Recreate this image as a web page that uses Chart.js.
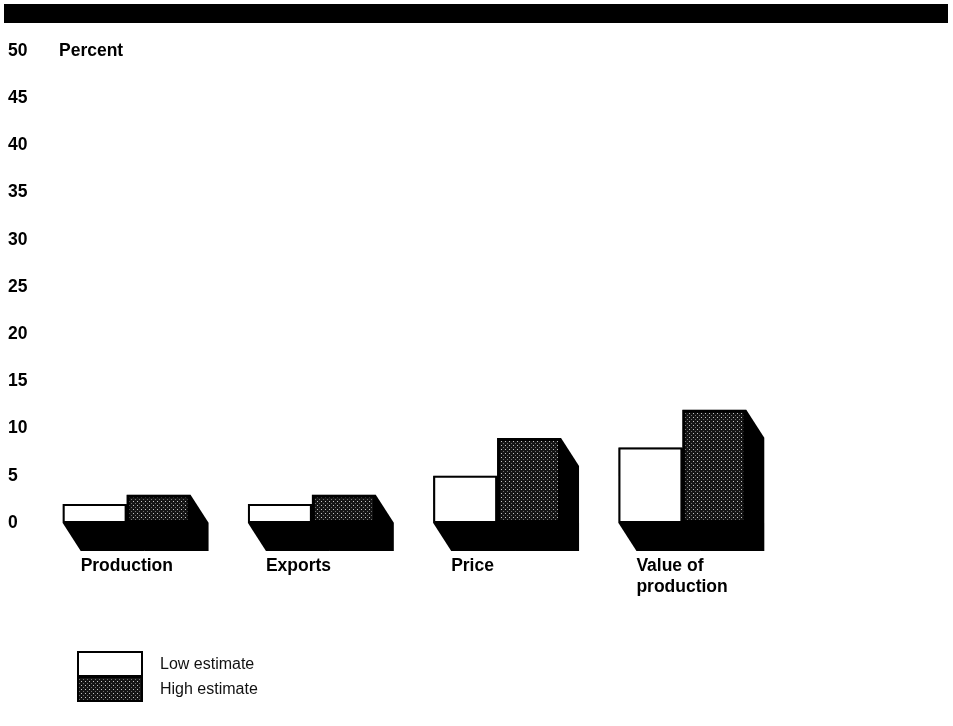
<!DOCTYPE html>
<html lang="en">
<head>
  <meta charset="UTF-8" />
  <title>Percent change: low and high estimates</title>
  <style>
    body {
      margin: 0;
      background-color: #ffffff;
    }
    .wrap {
      position: relative;
      width: 953px;
      height: 726px;
    }
  </style>
</head>
<body>
  <div class="wrap">
    <canvas id="barCanvas"></canvas>
  </div>

  <script src="https://cdn.jsdelivr.net/npm/chart.js"></script>
  <script>
    const categories = ['Production', 'Exports', 'Price', ['Value of', 'production']];
    const lowEstimate = [2, 2, 5, 8];
    const highEstimate = [3, 3, 9, 12];
    const seriesNames = ['Low estimate', 'High estimate'];
    const yMin = 0, yMax = 50, yStep = 5;
    const yUnit = 'Percent';

    const boldFont = { family: '"Liberation Sans", Arial, sans-serif', size: 17.5, weight: 'bold' };

    // fine dark stipple used for the high estimate bars
    function stipple() {
      const c = document.createElement('canvas');
      c.width = 4;
      c.height = 4;
      const g = c.getContext('2d');
      g.fillStyle = '#151515';
      g.fillRect(0, 0, 4, 4);
      g.fillStyle = '#c4c4c4';
      g.fillRect(1, 1, 1, 1);
      g.fillStyle = '#707070';
      g.fillRect(3, 3, 1, 1);
      return g.createPattern(c, 'repeat');
    }
    const highFill = stipple();

    // black extrusion behind each bar, running down and to the right
    const depthShadow = {
      id: 'depthShadow',
      beforeDatasetsDraw(chart) {
        const ctx = chart.ctx;
        const dx = 18, dy = 28;
        ctx.save();
        ctx.fillStyle = '#000';
        chart.data.datasets.forEach((ds, i) => {
          chart.getDatasetMeta(i).data.forEach(bar => {
            const { x, y, base, width } = bar.getProps(['x', 'y', 'base', 'width'], true);
            const l = x - width / 2, r = x + width / 2;
            ctx.beginPath();
            ctx.moveTo(l, base);
            ctx.lineTo(l, y);
            ctx.lineTo(r, y);
            ctx.lineTo(r + dx, y + dy);
            ctx.lineTo(r + dx, base + dy);
            ctx.lineTo(l + dx, base + dy);
            ctx.closePath();
            ctx.fill();
          });
        });
        ctx.restore();
      }
    };

    // header rule, unit label and the stacked legend
    const decorations = {
      id: 'decorations',
      beforeDraw(chart) {
        const ctx = chart.ctx;
        ctx.save();
        ctx.fillStyle = '#000';
        ctx.fillRect(4, 4, 944, 19);
        ctx.restore();
      },
      afterDraw(chart) {
        const ctx = chart.ctx;
        const yScale = chart.scales.y;
        ctx.save();
        ctx.fillStyle = '#000';
        ctx.font = 'bold 17.5px "Liberation Sans", Arial, sans-serif';
        ctx.textAlign = 'left';
        ctx.textBaseline = 'middle';
        ctx.fillText(yUnit, chart.chartArea.left + 25, yScale.getPixelForValue(yMax));

        ctx.font = '16px "Liberation Sans", Arial, sans-serif';
        chart.data.datasets.forEach((ds, i) => {
          const bx = 78, by = 652 + i * 25, bw = 64, bh = 24;
          ctx.fillStyle = ds.backgroundColor;
          ctx.fillRect(bx, by, bw, bh);
          ctx.strokeStyle = '#000';
          ctx.lineWidth = 2;
          ctx.strokeRect(bx, by, bw, bh);
          ctx.fillStyle = '#111';
          ctx.fillText(ds.label, 160, by + bh / 2 + 1);
        });
        ctx.restore();
      }
    };

    const canvas = document.getElementById('barCanvas');
    new Chart(canvas, {
      type: 'bar',
      data: {
        labels: categories,
        datasets: [
          {
            label: seriesNames[0],
            data: lowEstimate,
            backgroundColor: '#ffffff',
            borderColor: '#000',
            borderWidth: 2,
            borderSkipped: false
          },
          {
            label: seriesNames[1],
            data: highEstimate,
            backgroundColor: highFill,
            borderColor: '#000',
            borderWidth: 3,
            borderSkipped: false
          }
        ]
      },
      options: {
        responsive: true,
        maintainAspectRatio: false,
        animation: false,
        events: [],
        layout: {
          padding: { top: 51, left: 8, right: 178, bottom: 123 }
        },
        datasets: {
          bar: { categoryPercentage: 0.69, barPercentage: 1 }
        },
        plugins: {
          legend: { display: false },
          tooltip: { enabled: false }
        },
        scales: {
          x: {
            grid: { display: false, drawTicks: false },
            border: { display: false },
            afterFit(scale) { scale.height = 80; },
            ticks: {
              color: '#000',
              font: { ...boldFont, lineHeight: 1.2 },
              align: 'start',
              labelOffset: -46,
              padding: 33,
              maxRotation: 0
            }
          },
          y: {
            min: yMin,
            max: yMax,
            grid: { display: false, drawTicks: false },
            border: { display: false },
            afterFit(scale) { scale.width = 26; },
            ticks: {
              stepSize: yStep,
              color: '#000',
              font: boldFont,
              crossAlign: 'far',
              padding: 0
            }
          }
        }
      },
      plugins: [depthShadow, decorations]
    });
  </script>
</body>
</html>
